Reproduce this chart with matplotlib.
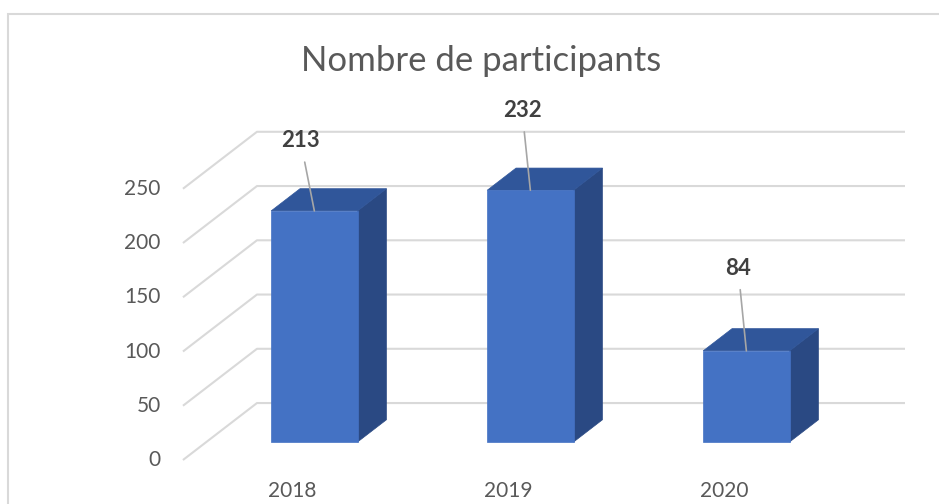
import matplotlib
matplotlib.use("Agg")
import matplotlib.pyplot as plt
from matplotlib.patches import Polygon, Rectangle

# ---- data ----
categories = ["2018", "2019", "2020"]
values = [213, 232, 84]
yticks = [0, 50, 100, 150, 200, 250]
title = "Nombre de participants"

# ---- pseudo-3D geometry (axis units) ----
DX = 0.3426     # x shift for full depth (category units)
DV = 52.5       # vertical shift for full depth (value units)
BAR_W = 0.40
D0, D1 = 0.316, 0.706   # bar front / back depth

FRONT = "#4472C4"
TOP = "#30569A"
SIDE = "#2A4983"
GRID = "#D9D9D9"
TXT = "#595959"

plt.rcParams['font.family'] = ['Lato', 'DejaVu Sans']

fig = plt.figure(figsize=(9.39, 5.04), dpi=100)
ax = fig.add_axes([0, 0, 1, 1])
ax.set_xlim(-1.347, 3.0)
ax.set_ylim(-40.55, 423.96)
ax.axis("off")


def P(x, v, d):
    return (x + d * DX, v + d * DV)


# chart area border
fig.patches.append(Rectangle((8 / 939, -0.1), 1.2, 1 - 14 / 504 + 0.1,
                             transform=fig.transFigure, fill=False,
                             edgecolor=GRID, linewidth=1.5))

n = len(categories)
xl, xr = -0.5, n - 0.5
for t in yticks:
    # side wall diagonal + back wall line
    a = P(xl, t, 0); b = P(xl, t, 1); c = P(xr, t, 1)
    ax.plot([a[0], b[0], c[0]], [a[1], b[1], c[1]], color=GRID, lw=1.5,
            solid_capstyle="butt", zorder=1)
    ax.annotate(str(t), xy=a, xytext=(-16, 0), textcoords="offset points",
                ha="right", va="center", fontsize=15, color=TXT)

label_offsets = [(-10, -43), (-6, -50), (-6, -52)]
for i, (cat, v) in enumerate(zip(categories, values)):
    x0, x1 = i - BAR_W / 2, i + BAR_W / 2
    front = [P(x0, 0, D0), P(x1, 0, D0), P(x1, v, D0), P(x0, v, D0)]
    top = [P(x0, v, D0), P(x1, v, D0), P(x1, v, D1), P(x0, v, D1)]
    side = [P(x1, 0, D0), P(x1, 0, D1), P(x1, v, D1), P(x1, v, D0)]
    ax.add_patch(Polygon(side, closed=True, facecolor=SIDE, edgecolor=SIDE, lw=0.5, zorder=3))
    ax.add_patch(Polygon(top, closed=True, facecolor=TOP, edgecolor=TOP, lw=0.5, zorder=3))
    ax.add_patch(Polygon(front, closed=True, facecolor=FRONT, edgecolor=FRONT, lw=0.5, zorder=4))
    anchor = P(i, v, D0)
    dxo, dyo = label_offsets[i]
    ax.annotate(str(v), xy=anchor, xytext=(dxo, -dyo), textcoords="offset points",
                ha="center", va="bottom", fontsize=16, fontweight="bold", color="#404040",
                arrowprops=dict(arrowstyle="-", color="#A6A6A6", lw=1.2,
                                shrinkA=6, shrinkB=0), zorder=5)
    ax.annotate(cat, xy=P(i, 0, 0), xytext=(1, -22), textcoords="offset points",
                ha="center", va="center", fontsize=15, color=TXT)

fig.text(481 / 939, 1 - 61 / 504, title, ha="center", va="center",
         fontsize=25, color=TXT)

fig.savefig("out.png", dpi=100, facecolor="white")
